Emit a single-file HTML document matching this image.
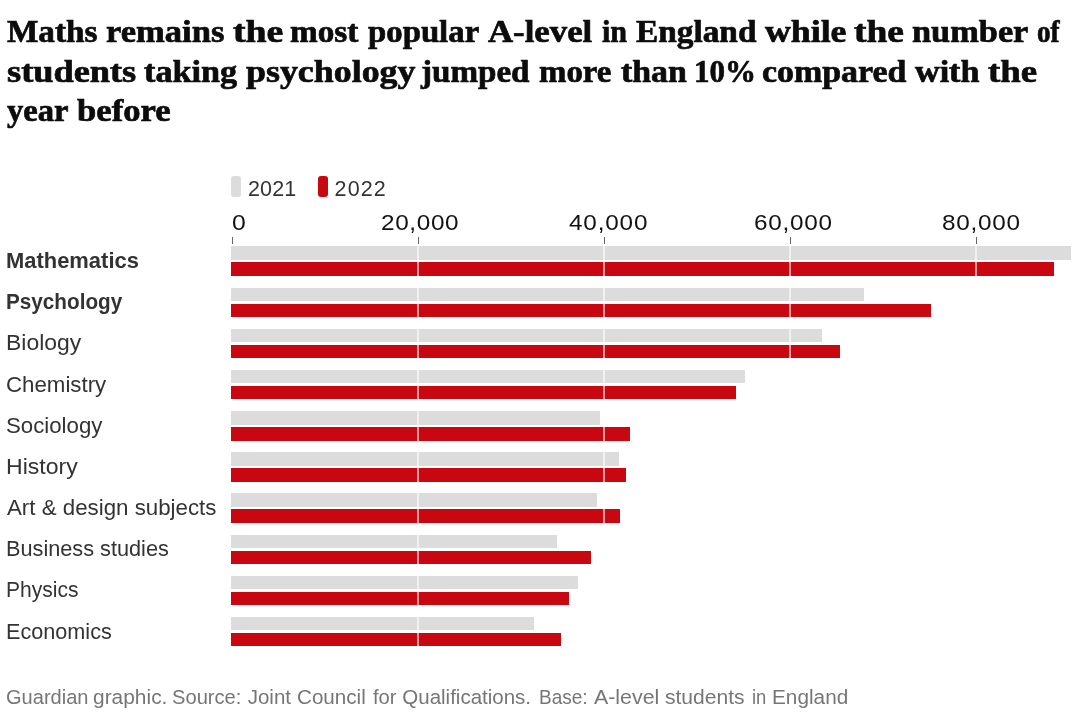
<!DOCTYPE html>
<html lang="en"><head><meta charset="utf-8"><title>A-level entries</title>
<style>
html,body{margin:0;padding:0;background:#fff;}
body{width:1080px;height:716px;position:relative;overflow:hidden;font-family:"Liberation Sans",Arial,sans-serif;}
.t{position:absolute;margin:0;font-family:"Liberation Serif","Times New Roman",serif;font-weight:700;font-size:32.5px;line-height:40px;color:#0c0c0c;white-space:nowrap;letter-spacing:0;transform-origin:0 0;-webkit-text-stroke:0.7px #0c0c0c;}
.lab{position:absolute;transform-origin:0 0;font-size:22px;line-height:26px;color:#333;white-space:nowrap;}
.lab.b{font-weight:700;font-size:22px;}
.bar{position:absolute;left:231px;height:13.6px;}
.g{background:#dcdcdc;}
.r{background:#c80710;}
.tick{position:absolute;top:236.5px;width:1px;height:7.7px;background:#666;}
.grid{position:absolute;top:245px;width:1.1px;height:404px;background:rgba(255,255,255,.6);}
.ax{position:absolute;font-size:22.5px;line-height:26px;color:#121212;white-space:nowrap;transform-origin:0 0;}
.leg{position:absolute;font-size:21.5px;line-height:26px;color:#333;white-space:nowrap;}
.sw{position:absolute;top:176px;width:10px;height:20.5px;border-radius:3px;}
.foot{position:absolute;transform-origin:0 0;font-size:20.5px;line-height:26px;color:#767676;white-space:nowrap;}
</style></head><body>
<h1 style="margin:0;font-size:0;line-height:0">
<span class="t" style="left:6.7px;top:11.03px;letter-spacing:0px;transform:scaleX(1.0227);">Maths</span> 
<span class="t" style="left:106.0px;top:11.03px;letter-spacing:0px;transform:scaleX(1.0631);">remains</span> 
<span class="t" style="left:232.7px;top:11.03px;letter-spacing:0px;transform:scaleX(1.1628);">the</span> 
<span class="t" style="left:290.0px;top:11.03px;letter-spacing:0px;transform:scaleX(1.0239);">most</span> 
<span class="t" style="left:368.3px;top:11.03px;letter-spacing:0px;transform:scaleX(1.0091);">popular</span> 
<span class="t" style="left:488.3px;top:11.03px;letter-spacing:0px;transform:scaleX(1.0701);">A-level</span> 
<span class="t" style="left:601.7px;top:11.03px;letter-spacing:0px;transform:scaleX(0.9259);">in</span> 
<span class="t" style="left:636.0px;top:11.03px;letter-spacing:0px;transform:scaleX(1.0254);">England</span> 
<span class="t" style="left:765.0px;top:11.03px;letter-spacing:0px;transform:scaleX(1.1001);">while</span> 
<span class="t" style="left:854.0px;top:11.03px;letter-spacing:0px;transform:scaleX(1.1535);">the</span> 
<span class="t" style="left:911.7px;top:11.03px;letter-spacing:0px;transform:scaleX(1.0564);">number</span> 
<span class="t" style="left:1036.7px;top:11.03px;letter-spacing:0px;transform:scaleX(0.8378);">of</span> 
<span class="t" style="left:6.7px;top:50.83px;letter-spacing:0px;transform:scaleX(1.1183);">students</span> 
<span class="t" style="left:144.0px;top:50.83px;letter-spacing:0px;transform:scaleX(1.0517);">taking</span> 
<span class="t" style="left:246.0px;top:50.83px;letter-spacing:0px;transform:scaleX(1.1039);">psychology</span> 
<span class="t" style="left:421.0px;top:50.83px;letter-spacing:0px;transform:scaleX(1.0185);">jumped</span> 
<span class="t" style="left:539.3px;top:50.83px;letter-spacing:0px;transform:scaleX(1.0113);">more</span> 
<span class="t" style="left:620.7px;top:50.83px;letter-spacing:0px;transform:scaleX(1.0413);">than</span> 
<span class="t" style="left:693.7px;top:50.83px;letter-spacing:0px;transform:scaleX(0.9542);">10%</span> 
<span class="t" style="left:761.7px;top:50.83px;letter-spacing:0px;transform:scaleX(1.0435);">compared</span> 
<span class="t" style="left:915.0px;top:50.83px;letter-spacing:0px;transform:scaleX(1.0494);">with</span> 
<span class="t" style="left:988.3px;top:50.83px;letter-spacing:0px;transform:scaleX(1.135);">the</span> 
<span class="t" style="left:6.7px;top:90.43px;letter-spacing:0px;transform:scaleX(1.0033);">year</span> 
<span class="t" style="left:77.3px;top:90.43px;letter-spacing:0px;transform:scaleX(1.0659);">before</span> 
</h1>
<div class="sw g" style="left:231px"></div>
<div class="leg" style="left:247.9px;top:175.85px;letter-spacing:0.167px;">2021</div>
<div class="sw r" style="left:317.6px"></div>
<div class="leg" style="left:334.6px;top:175.85px;letter-spacing:1.1px;">2022</div>
<div class="ax" style="left:231.5px;top:210.10px;letter-spacing:0px;transform:scaleX(1.1);">0</div>
<div class="tick" style="left:231.5px"></div>
<div class="ax" style="left:380.8px;top:210.10px;letter-spacing:0.6px;transform:scaleX(1.08);">20,000</div>
<div class="tick" style="left:417.5px"></div>
<div class="ax" style="left:568.6px;top:210.10px;letter-spacing:0.76px;transform:scaleX(1.08);">40,000</div>
<div class="tick" style="left:603.5px"></div>
<div class="ax" style="left:754.3px;top:210.10px;letter-spacing:0.68px;transform:scaleX(1.08);">60,000</div>
<div class="tick" style="left:789.5px"></div>
<div class="ax" style="left:941.5px;top:210.10px;letter-spacing:0.7px;transform:scaleX(1.08);">80,000</div>
<div class="tick" style="left:975.5px"></div>
<div class="lab b" style="left:6.0px;top:248.08px;letter-spacing:0px;transform:scaleX(0.997);">Mathematics</div>
<div class="bar g" style="top:246.3px;width:839.7px"></div>
<div class="bar r" style="top:262.3px;width:822.8px"></div>
<div class="lab b" style="left:6.0px;top:289.25px;letter-spacing:0px;transform:scaleX(0.941);">Psychology</div>
<div class="bar g" style="top:287.5px;width:632.5px"></div>
<div class="bar r" style="top:303.5px;width:700.4px"></div>
<div class="lab" style="left:6.0px;top:330.42px;letter-spacing:0px;transform:scaleX(1.0423);">Biology</div>
<div class="bar g" style="top:328.6px;width:591.0px"></div>
<div class="bar r" style="top:344.6px;width:608.7px"></div>
<div class="lab" style="left:6.0px;top:371.59px;letter-spacing:0px;transform:scaleX(1.0123);">Chemistry</div>
<div class="bar g" style="top:369.8px;width:514.1px"></div>
<div class="bar r" style="top:385.8px;width:504.5px"></div>
<div class="lab" style="left:5.8px;top:412.76px;letter-spacing:0px;transform:scaleX(1.0106);">Sociology</div>
<div class="bar g" style="top:411.0px;width:369.0px"></div>
<div class="bar r" style="top:427.0px;width:399.0px"></div>
<div class="lab" style="left:5.8px;top:453.93px;letter-spacing:0px;transform:scaleX(1.0478);">History</div>
<div class="bar g" style="top:452.2px;width:387.9px"></div>
<div class="bar r" style="top:468.2px;width:394.7px"></div>
<div class="lab" style="left:6.8px;top:495.10px;letter-spacing:0px;transform:scaleX(1.0136);">Art &amp; design subjects</div>
<div class="bar g" style="top:493.3px;width:366.3px"></div>
<div class="bar r" style="top:509.3px;width:388.8px"></div>
<div class="lab" style="left:5.8px;top:536.27px;letter-spacing:0px;transform:scaleX(0.9865);">Business studies</div>
<div class="bar g" style="top:534.5px;width:325.9px"></div>
<div class="bar r" style="top:550.5px;width:360.3px"></div>
<div class="lab" style="left:6.0px;top:577.44px;letter-spacing:0px;transform:scaleX(0.9568);">Physics</div>
<div class="bar g" style="top:575.7px;width:347.3px"></div>
<div class="bar r" style="top:591.7px;width:338.0px"></div>
<div class="lab" style="left:6.0px;top:618.61px;letter-spacing:0px;transform:scaleX(0.983);">Economics</div>
<div class="bar g" style="top:616.8px;width:302.8px"></div>
<div class="bar r" style="top:632.8px;width:330.2px"></div>
<div class="grid" style="left:417.45px"></div>
<div class="grid" style="left:603.45px"></div>
<div class="grid" style="left:789.45px"></div>
<div class="grid" style="left:975.45px"></div>
<p style="margin:0;font-size:0;line-height:0">
<span class="foot" style="left:5.7px;top:683.90px;letter-spacing:0px;transform:scaleX(0.9781);">Guardian</span> 
<span class="foot" style="left:93.3px;top:683.90px;letter-spacing:0px;transform:scaleX(1.02);">graphic.</span> 
<span class="foot" style="left:172.3px;top:683.90px;letter-spacing:0px;transform:scaleX(0.9824);">Source:</span> 
<span class="foot" style="left:247.7px;top:683.90px;letter-spacing:0px;">Joint</span> 
<span class="foot" style="left:297.3px;top:683.90px;letter-spacing:0px;transform:scaleX(1.0061);">Council</span> 
<span class="foot" style="left:372.7px;top:683.90px;letter-spacing:0px;transform:scaleX(0.9835);">for</span> 
<span class="foot" style="left:402.3px;top:683.90px;letter-spacing:0px;">Qualifications.</span> 
<span class="foot" style="left:539.0px;top:683.90px;letter-spacing:0px;transform:scaleX(0.928);">Base:</span> 
<span class="foot" style="left:594.0px;top:683.90px;letter-spacing:0px;transform:scaleX(1.042);">A-level</span> 
<span class="foot" style="left:665.0px;top:683.90px;letter-spacing:0px;transform:scaleX(1.0263);">students</span> 
<span class="foot" style="left:751.7px;top:683.90px;letter-spacing:0px;transform:scaleX(0.9005);">in</span> 
<span class="foot" style="left:772.3px;top:683.90px;letter-spacing:0px;transform:scaleX(1.0137);">England</span> 
</p>
</body></html>
